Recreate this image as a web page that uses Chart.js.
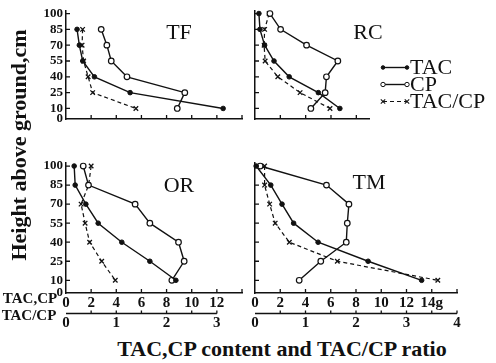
<!DOCTYPE html>
<html>
<head>
<meta charset="utf-8">
<script src="https://cdn.jsdelivr.net/npm/chart.js@4.4.1/dist/chart.umd.min.js"></script>
<style>
  body { margin: 0; background: #fff; width: 496px; height: 363px; overflow: hidden; position: relative; font-family: "Liberation Serif", serif; color: #111; }
  canvas { position: absolute; }
  .txt { position: absolute; transform: translate(-50%, -50%); line-height: 1; white-space: nowrap; }
  .ttl { font-size: 22px; }
  .ytitle { font-size: 22px; font-weight: bold; transform: translate(-50%, -50%) rotate(-90deg); }
  .xtitle { font-size: 22px; font-weight: bold; }
  .axname { font-size: 15px; font-weight: bold; }
</style>
</head>
<body>
<canvas id="cTF" width="250" height="150" style="left:0;top:0"></canvas>
<canvas id="cRC" width="250" height="150" style="left:246px;top:0"></canvas>
<canvas id="cOR" width="250" height="185" style="left:0;top:150px"></canvas>
<canvas id="cTM" width="250" height="185" style="left:246px;top:150px"></canvas>

<div class="txt ttl" style="left:179px;top:32px">TF</div>
<div class="txt ttl" style="left:368px;top:32px">RC</div>
<div class="txt ttl" style="left:179px;top:185px">OR</div>
<div class="txt ttl" style="left:369px;top:182px">TM</div>
<div class="txt ytitle" style="left:19px;top:145px">Height above ground,cm</div>
<div class="txt axname" style="left:30px;top:298px">TAC,CP</div>
<div class="txt axname" style="left:29px;top:315px">TAC/CP</div>
<div class="txt xtitle" style="left:282px;top:349px">TAC,CP content and TAC/CP ratio</div>

<script>
// sampling heights (cm), top to bottom
const heights = [100, 85, 70, 55, 40, 25, 10];
const heightTicks = [0, 10, 25, 40, 55, 70, 85, 100];

// TF (no sample at 100 cm)
const tacTF   = [null, 0.88, 1.06, 1.33, 2.26, 5.1, 12.5];
const cpTF    = [null, 2.8, 3.25, 3.6, 4.85, 9.45, 8.85];
const ratioTF = [null, 0.33, 0.32, 0.35, 0.44, 0.53, 1.39];

// RC
const tacRC   = [0.31, 0.39, 0.76, 1.5, 2.7, 5.0, 6.7];
const cpRC    = [1.18, 2.02, 4.07, 6.54, 5.64, 5.54, 4.41];
const ratioRC = [0.28, 0.19, 0.18, 0.2, 0.45, 0.89, 1.48];

// OR
const tacOR   = [0.65, 0.73, 1.58, 2.56, 4.44, 6.67, 8.74];
const cpOR    = [1.37, 1.79, 5.5, 6.67, 8.95, 9.4, 8.42];
const ratioOR = [0.5, 0.45, 0.3, 0.38, 0.47, 0.71, 0.98];

// TM
const tacTM   = [0.09, 1.25, 2.14, 3.06, 5.0, 8.96, 13.2];
const cpTM    = [0.41, 5.66, 7.44, 7.31, 7.23, 5.21, 3.5];
const ratioTM = [0.19, 0.19, 0.29, 0.4, 0.68, 1.63, 3.62];

// bottom axis tick labels
const contentTicksLeft  = [0, 2, 4, 6, 8, 10, 12];
const contentLabelsLeft = ['0', '2', '4', '6', '8', '10', '12'];
const contentTicksRight  = [0, 2, 4, 6, 8, 10, 12, 14];
const contentLabelsRight = ['0', '2', '4', '6', '8', '10', '12', '14g'];
const ratioTicksLeft  = [0, 1, 2, 3];
const ratioTicksRight = [0, 1, 2, 3, 4];

const ink = '#111';
const serif = 'Liberation Serif';

function pairs(arr) {
    return heights.map((h, i) => ({x: arr[i], y: h})).filter(p => p.x !== null);
}

// short tick marks pointing into the plot, plus the ratio axis line
const insideTicks = {
    id: 'insideTicks',
    afterDatasetsDraw(chart, args, opts) {
        const {ctx, chartArea, scales} = chart;
        ctx.save();
        ctx.strokeStyle = ink;
        ctx.lineWidth = 1.3;
        ctx.beginPath();
        heightTicks.forEach(v => {
            if (v === 0) return;
            const py = scales.y.getPixelForValue(v);
            ctx.moveTo(chartArea.left, py);
            ctx.lineTo(chartArea.left + 4, py);
        });
        for (let v = 2; v <= scales.x.max + 1e-9; v += 2) {
            const px = scales.x.getPixelForValue(v);
            ctx.moveTo(px, chartArea.bottom);
            ctx.lineTo(px, chartArea.bottom - 4);
        }
        if (opts.ratioEnd) {
            const r = scales.x2;
            const top = r.top + 0.5;
            ctx.moveTo(r.getPixelForValue(0), top);
            ctx.lineTo(r.getPixelForValue(opts.ratioEnd), top);
            for (let v = 0.5; v <= opts.ratioEnd + 1e-9; v += 0.5) {
                const px = r.getPixelForValue(v);
                ctx.moveTo(px, top);
                ctx.lineTo(px, top - 3);
            }
        }
        ctx.stroke();
        ctx.restore();
    }
};

// legend beside the RC panel: short line with a marker at each end
const sideLegend = {
    id: 'sideLegend',
    afterDraw(chart, args, opts) {
        if (!opts.show) return;
        const ctx = chart.ctx;
        ctx.save();
        chart.data.datasets.forEach((ds, i) => {
            const y = opts.y0 + i * opts.gap;
            ctx.strokeStyle = ink;
            ctx.lineWidth = ds.borderWidth;
            ctx.setLineDash(ds.borderDash || []);
            ctx.beginPath();
            ctx.moveTo(opts.x0, y);
            ctx.lineTo(opts.x1, y);
            ctx.stroke();
            ctx.setLineDash([]);
            [opts.x0, opts.x1].forEach(px => {
                ctx.beginPath();
                if (ds.pointStyle === 'crossRot') {
                    const d = 2.2;
                    ctx.moveTo(px - d, y - d); ctx.lineTo(px + d, y + d);
                    ctx.moveTo(px - d, y + d); ctx.lineTo(px + d, y - d);
                    ctx.lineWidth = 1.1;
                    ctx.stroke();
                } else {
                    ctx.arc(px, y, ds.label === 'TAC' ? 1.8 : 2.2, 0, Math.PI * 2);
                    ctx.fillStyle = ds.pointBackgroundColor;
                    ctx.fill();
                    ctx.lineWidth = 1;
                    ctx.stroke();
                }
            });
            ctx.fillStyle = ink;
            ctx.font = '22px "' + serif + '"';
            ctx.textBaseline = 'middle';
            ctx.fillText(ds.label, opts.x1 + 3, y + 1);
        });
        ctx.restore();
    }
};

function drawPanel(id, cfg) {
    return new Chart(document.getElementById(id), {
        type: 'line',
        data: {
            datasets: [
                {
                    label: 'TAC', data: pairs(cfg.tac), xAxisID: 'x',
                    borderColor: ink, borderWidth: 1.4, clip: false,
                    pointRadius: 2.3, pointBackgroundColor: ink, pointBorderColor: ink, pointBorderWidth: 1
                },
                {
                    label: 'CP', data: pairs(cfg.cp), xAxisID: 'x',
                    borderColor: ink, borderWidth: 1.4, clip: false,
                    pointRadius: 2.8, pointBackgroundColor: '#fff', pointBorderColor: ink, pointBorderWidth: 1.2
                },
                {
                    label: 'TAC/CP', data: pairs(cfg.ratio), xAxisID: 'x2',
                    borderColor: ink, borderWidth: 1.2, borderDash: [4, 3], clip: false,
                    pointStyle: 'crossRot', pointRadius: 3.2, pointBorderColor: ink, pointBorderWidth: 1.3
                }
            ]
        },
        options: {
            responsive: false,
            animation: false,
            events: [],
            layout: {padding: {left: 0, right: cfg.padRight, top: cfg.padTop, bottom: 0}},
            plugins: {
                legend: {display: false},
                tooltip: {enabled: false},
                insideTicks: {ratioEnd: cfg.ratioEnd},
                sideLegend: cfg.legend || {show: false}
            },
            scales: {
                y: {
                    type: 'linear', position: 'left', min: 0, max: 102.4,
                    afterBuildTicks: s => { s.ticks = heightTicks.map(v => ({value: v})); },
                    afterFit: s => { s.width = cfg.yWidth; },
                    grid: {display: false, drawTicks: false},
                    border: {display: true, color: ink, width: 1.5},
                    ticks: {
                        display: cfg.yLabels, padding: 3, color: ink, autoSkip: false,
                        font: {family: serif, size: 13, weight: 'bold'},
                        callback: v => String(v)
                    }
                },
                x: {
                    type: 'linear', position: 'bottom', weight: 0, min: 0, max: cfg.xMax,
                    afterBuildTicks: s => { s.ticks = (cfg.xTicks || []).map(v => ({value: v})); },
                    afterFit: s => { s.height = cfg.xHeight; },
                    grid: {display: false, drawTicks: false},
                    border: {display: true, color: ink, width: 1.5},
                    ticks: {
                        display: !!cfg.xTicks, padding: 1, color: ink, autoSkip: false, maxRotation: 0,
                        font: {family: serif, size: 15, weight: 'bold'},
                        callback: (v, i) => cfg.xLabels[i]
                    }
                },
                x2: {
                    type: 'linear', position: 'bottom', weight: 1, min: 0, max: cfg.xMax / 4,
                    display: !!cfg.ratioTicks,
                    afterBuildTicks: s => { s.ticks = (cfg.ratioTicks || []).map(v => ({value: v})); },
                    afterFit: s => { s.height = 22; },
                    grid: {display: false, drawTicks: false},
                    border: {display: false},
                    ticks: {
                        padding: 1, color: ink, autoSkip: false, maxRotation: 0,
                        font: {family: serif, size: 15, weight: 'bold'},
                        callback: v => String(v)
                    }
                }
            }
        },
        plugins: [insideTicks, sideLegend]
    });
}

drawPanel('cTF', {
    tac: tacTF, cp: cpTF, ratio: ratioTF,
    xMax: 14, yWidth: 66, yLabels: true, xHeight: 9, padTop: 11, padRight: 8
});

drawPanel('cRC', {
    tac: tacRC, cp: cpRC, ratio: ratioRC,
    xMax: 9, yWidth: 9, yLabels: false, xHeight: 9, padTop: 11, padRight: 127,
    legend: {show: true, x0: 137, x1: 161, y0: 67.5, gap: 17}
});

drawPanel('cOR', {
    tac: tacOR, cp: cpOR, ratio: ratioOR,
    xMax: 14, yWidth: 66, yLabels: true, xHeight: 20, padTop: 13, padRight: 8,
    xTicks: contentTicksLeft, xLabels: contentLabelsLeft, ratioTicks: ratioTicksLeft, ratioEnd: 3
});

drawPanel('cTM', {
    tac: tacTM, cp: cpTM, ratio: ratioTM,
    xMax: 16, yWidth: 9, yLabels: false, xHeight: 20, padTop: 13, padRight: 39,
    xTicks: contentTicksRight, xLabels: contentLabelsRight, ratioTicks: ratioTicksRight, ratioEnd: 4
});
</script>
</body>
</html>
